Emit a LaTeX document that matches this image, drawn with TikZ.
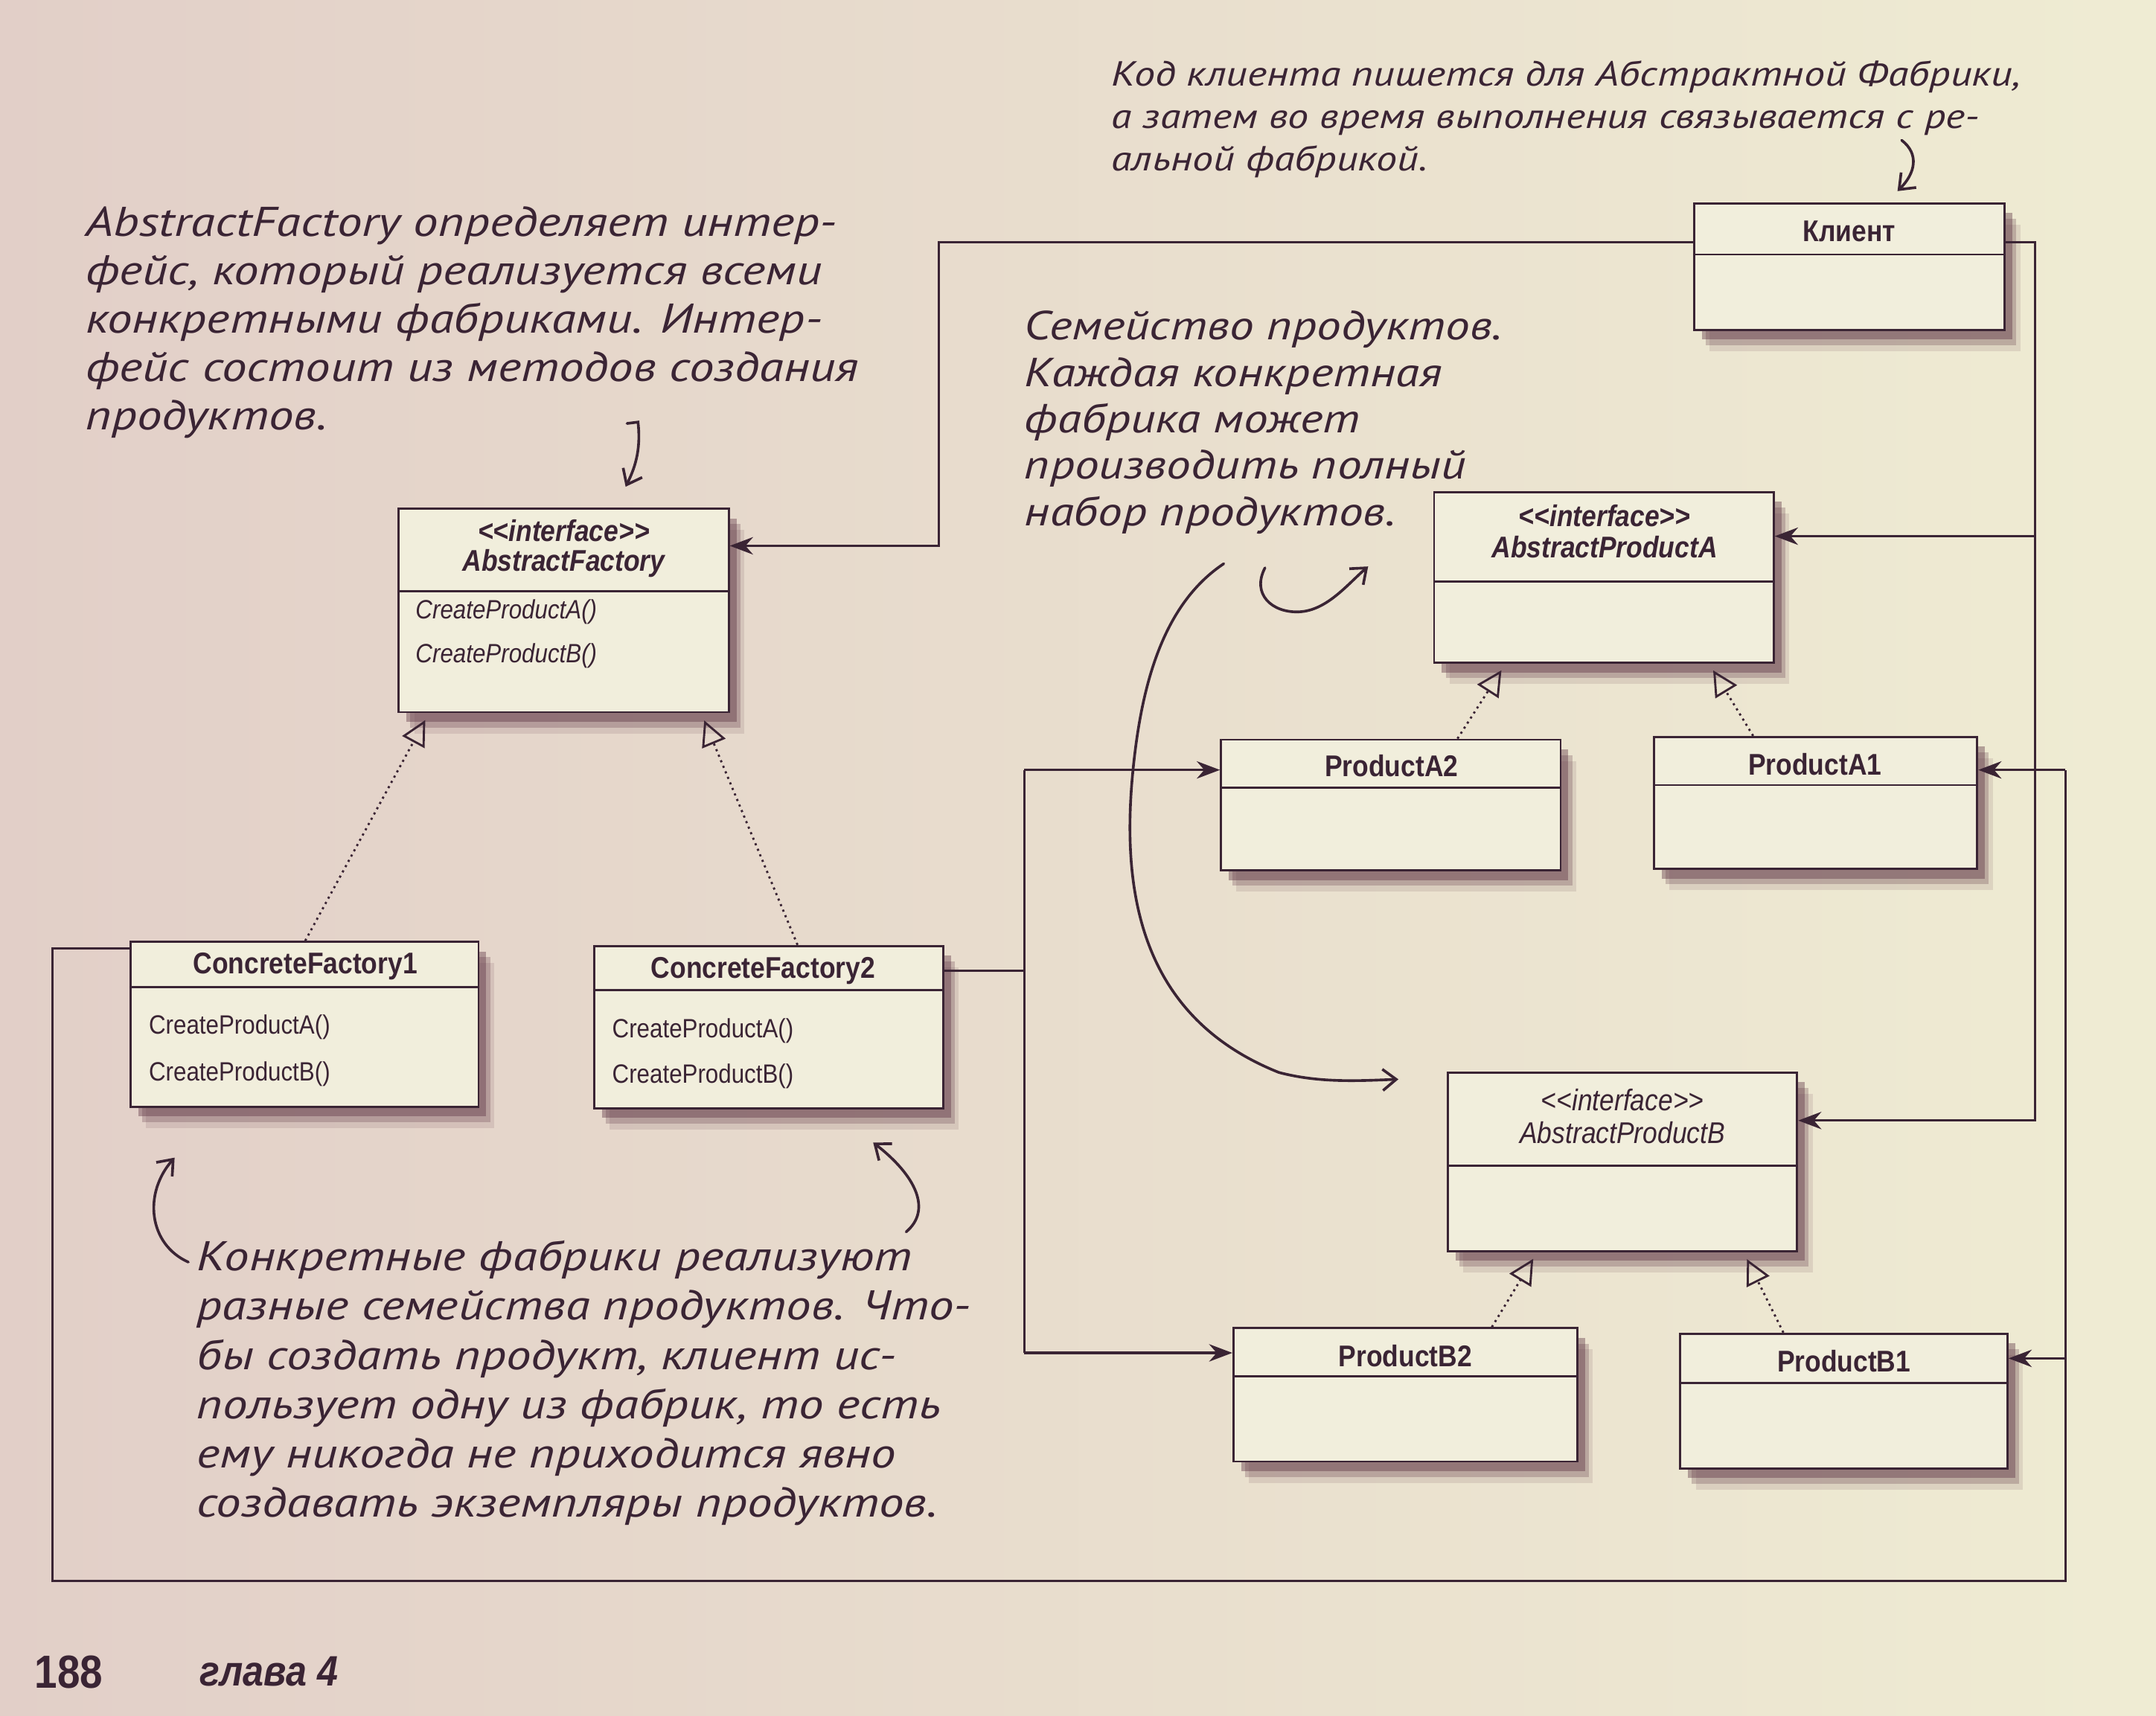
\documentclass[tikz,border=0pt]{standalone}
\usepackage{fontspec}
\setmainfont{Liberation Sans}
\newfontfamily\umlfont[FakeStretch=0.88]{Liberation Sans}
\newfontfamily\handfont[FakeStretch=1.2]{PT Sans}
\usetikzlibrary{arrows.meta,shadows,calc,fit}
\definecolor{ink}{HTML}{3A2434}
\definecolor{boxfill}{HTML}{F1EEDC}
\definecolor{bgL}{HTML}{E2CFC8}
\definecolor{bgR}{HTML}{EFECD3}
\definecolor{shad}{HTML}{5A3040}
\tikzset{
  umlbox/.style={draw=ink, line width=1.1pt, fill=boxfill, inner sep=0pt,
    drop shadow={shadow xshift=8pt, shadow yshift=-11pt, fill=shad, opacity=.12},
    drop shadow={shadow xshift=6pt, shadow yshift=-8pt, fill=shad, opacity=.25},
    drop shadow={shadow xshift=4pt, shadow yshift=-5pt, fill=shad, opacity=.4}},
  divider/.style={draw=ink, line width=1pt},
  umlname/.style={text=ink, inner sep=0pt, font=\umlfont\bfseries\fontsize{15.5}{18}\selectfont},
  umlital/.style={text=ink, inner sep=0pt, font=\umlfont\bfseries\itshape\fontsize{15.5}{18}\selectfont},
  umlitalthin/.style={text=ink, inner sep=0pt, font=\umlfont\itshape\fontsize{15.5}{18}\selectfont},
  umlmeth/.style={text=ink, inner sep=0pt, anchor=west, font=\umlfont\fontsize{13.7}{16}\selectfont},
  umlmethit/.style={text=ink, inner sep=0pt, anchor=west, font=\umlfont\itshape\fontsize{13.7}{16}\selectfont},
  assoc/.style={draw=ink, line width=1.2pt, -{Stealth[length=12pt,width=9pt]}},
  plainline/.style={draw=ink, line width=1.2pt},
  realize/.style={draw=ink, line width=1.1pt, dotted, shorten >=4pt,
    -{Triangle[open,length=13pt,width=13pt,line width=1.1pt]}},
  handarrow/.style={draw=ink, line width=1.4pt, line cap=round,
    -{Straight Barb[length=7pt,width=11pt,line width=1.4pt]}},
  note/.style={text=ink, inner sep=0pt, align=left, anchor=north west,
    font=\handfont\itshape\fontsize{21.5}{25}\selectfont},
}
\begin{document}
\begin{tikzpicture}[x=0.25mm,y=-0.25mm]
\shade[left color=bgL, right color=bgR] (0,0) rectangle (1568,1248);
\useasboundingbox (0,0) rectangle (1568,1248);

% ---------- boxes ----------
\node[umlbox, fit={(1232,148) (1458,240)}] (cl) {};
\draw[divider] (cl.west |- 0,185) -- (cl.east |- 0,185);
\node[umlname] (cln) at (1345,168) {Клиент};

\node[umlbox, fit={(290,370) (530,518)}] (af) {};
\draw[divider] (af.west |- 0,430) -- (af.east |- 0,430);
\node[umlital] (afs) at (410,386) {<<interface>>};
\node[umlital] (afn) at (410,410) {AbstractFactory};
\node[umlmethit] (afm1) at (302,445) {CreateProductA()};
\node[umlmethit] (afm2) at (302,477) {CreateProductB()};

\node[umlbox, fit={(95,685) (348,805)}] (cf1) {};
\draw[divider] (cf1.west |- 0,718) -- (cf1.east |- 0,718);
\node[umlname] (cf1n) at (222,703) {ConcreteFactory1};
\node[umlmeth] (cf1m1) at (108,747) {CreateProductA()};
\node[umlmeth] (cf1m2) at (108,781) {CreateProductB()};

\node[umlbox, fit={(432,688) (686,806)}] (cf2) {};
\draw[divider] (cf2.west |- 0,720) -- (cf2.east |- 0,720);
\node[umlname] (cf2n) at (555,706) {ConcreteFactory2};
\node[umlmeth] (cf2m1) at (445,750) {CreateProductA()};
\node[umlmeth] (cf2m2) at (445,783) {CreateProductB()};

\node[umlbox, fit={(1043,358) (1290,482)}] (apa) {};
\draw[divider] (apa.west |- 0,423) -- (apa.east |- 0,423);
\node[umlital] (apas) at (1167,375) {<<interface>>};
\node[umlital] (apan) at (1167,398) {AbstractProductA};

\node[umlbox, fit={(888,538) (1135,633)}] (pa2) {};
\draw[divider] (pa2.west |- 0,573) -- (pa2.east |- 0,573);
\node[umlname] (pa2n) at (1012,557) {ProductA2};

\node[umlbox, fit={(1203,536) (1438,632)}] (pa1) {};
\draw[divider] (pa1.west |- 0,571) -- (pa1.east |- 0,571);
\node[umlname] (pa1n) at (1320,556) {ProductA1};

\node[umlbox, fit={(1053,780) (1307,910)}] (apb) {};
\draw[divider] (apb.west |- 0,848) -- (apb.east |- 0,848);
\node[umlitalthin] (apbs) at (1180,800) {<<interface>>};
\node[umlitalthin] (apbn) at (1180,824) {AbstractProductB};

\node[umlbox, fit={(897,966) (1147,1063)}] (pb2) {};
\draw[divider] (pb2.west |- 0,1001) -- (pb2.east |- 0,1001);
\node[umlname] (pb2n) at (1022,986) {ProductB2};

\node[umlbox, fit={(1222,970) (1460,1068)}] (pb1) {};
\draw[divider] (pb1.west |- 0,1006) -- (pb1.east |- 0,1006);
\node[umlname] (pb1n) at (1341,990) {ProductB1};

% ---------- associations ----------
\draw[assoc] (cl.west |- 0,176) -| (683,397) -- (af.east |- 0,397);

\coordinate (rA) at (1480,390);
\draw[assoc] (cl.east |- 0,176) -| (1480,815) -- (apb.east |- 0,815);
\draw[assoc] (rA) -- (apa.east |- rA);

\coordinate (rB) at (1502,988);
\draw[plainline] (cf1.west |- 0,690) -| (38,1150) -| (1502,560);
\draw[assoc] (1502,560) -- (pa1.east |- 0,560);
\draw[assoc] (rB) -- (pb1.east |- rB);

\coordinate (lA) at (745,560);
\coordinate (lB) at (745,984);
\draw[plainline] (cf2.east |- 0,706) -- (745,706);
\draw[plainline] (lA) -- (lB);
\draw[assoc] (lA) -- (pa2.west |- lA);
\draw[assoc] (lB) -- (pb2.west |- lB);

% ---------- realizations ----------
\draw[realize] (cf1.north -| 222,0) -- (af.south -| 312,0);
\draw[realize] (cf2.north -| 580,0) -- (af.south -| 510,0);
\draw[realize] (pa2.north -| 1060,0) -- (apa.south -| 1095,0);
\draw[realize] (pa1.north -| 1275,0) -- (apa.south -| 1243,0);
\draw[realize] (pb2.north -| 1085,0) -- (apb.south -| 1118,0);
\draw[realize] (pb1.north -| 1297,0) -- (apb.south -| 1268,0);

% ---------- notes ----------
\node[note, font=\handfont\itshape\fontsize{18}{22}\selectfont] (ntr) at (808,44)
  {Код клиента пишется для Абстрактной Фабрики,\\а затем во время выполнения связывается с ре-\\альной фабрикой.};
\node[note] (ntl) at (62,150)
  {AbstractFactory определяет интер-\\фейс, который реализуется всеми\\конкретными фабриками. Интер-\\фейс состоит из методов создания\\продуктов.};
\node[note, font=\handfont\itshape\fontsize{21}{24}\selectfont] (nmid) at (745,226)
  {Семейство продуктов.\\Каждая конкретная\\фабрика может\\производить полный\\набор продуктов.};
\node[note, font=\handfont\itshape\fontsize{21.5}{25.5}\selectfont] (nbot) at (143,902)
  {Конкретные фабрики реализуют\\разные семейства продуктов. Что-\\бы создать продукт, клиент ис-\\пользует одну из фабрик, то есть\\ему никогда не приходится явно\\создавать экземпляры продуктов.};

% ---------- hand-drawn arrows ----------
\draw[handarrow] (456,308) -- (464,307) .. controls (466,325) and (463,338) .. (455,354);
\draw[handarrow] (1383,102) .. controls (1396,112) and (1393,126) .. (1380,139);
\draw[handarrow] (920,413) .. controls (910,432) and (925,446) .. (945,445)
  .. controls (965,444) and (980,425) .. (995,412);
\draw[handarrow] (890,410) .. controls (845,440) and (830,500) .. (824,560)
  .. controls (815,650) and (830,740) .. (930,780)
  .. controls (960,788) and (990,786) .. (1017,785);
\draw[handarrow] (137,918) .. controls (108,905) and (104,868) .. (127,842);
\draw[handarrow] (659,896) .. controls (678,880) and (666,855) .. (635,831);

% ---------- footer ----------
\node[anchor=base west, inner sep=0pt, text=ink, font=\umlfont\bfseries\fontsize{24}{26}\selectfont] (pg) at (25,1228) {188};
\node[anchor=base west, inner sep=0pt, text=ink, font=\umlfont\bfseries\itshape\fontsize{22}{24}\selectfont] (ch) at (145,1226) {глава 4};
\end{tikzpicture}
\end{document}
